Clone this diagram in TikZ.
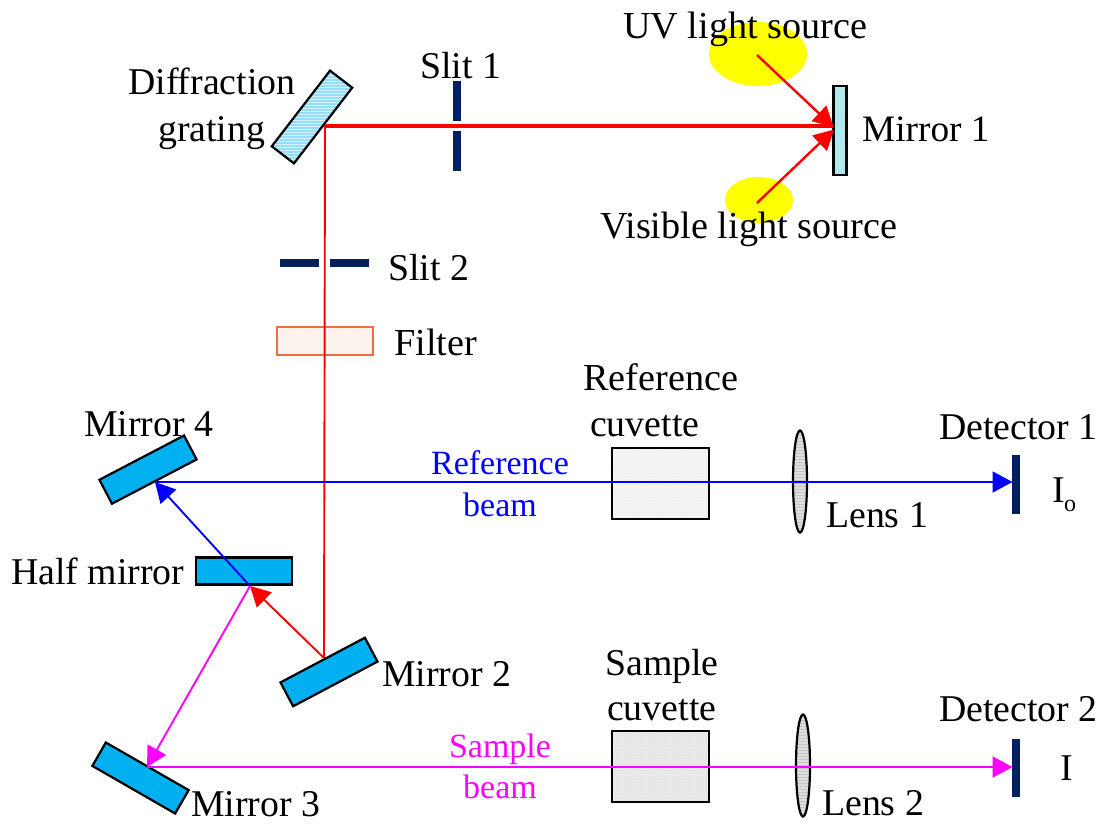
\documentclass[tikz,border=0pt]{standalone}
\usepackage{fontspec}
\setmainfont{Liberation Serif}
\usetikzlibrary{arrows.meta,shapes.geometric,patterns}
\definecolor{navyslit}{RGB}{0,32,96}
\definecolor{mirrorblue}{RGB}{0,176,240}
\definecolor{paleblue}{RGB}{176,232,240}
\definecolor{gratingblue}{RGB}{150,222,248}
\definecolor{srcyellow}{RGB}{255,255,0}
\definecolor{filterline}{RGB}{240,110,70}
\definecolor{filterfill}{RGB}{250,235,225}
\definecolor{cuvA}{RGB}{245,245,245}
\definecolor{cuvB}{RGB}{235,235,235}
\definecolor{lensfill}{RGB}{222,222,222}
\definecolor{beampink}{RGB}{255,0,255}
\tikzset{
  x=1pt,y=-1pt,
  lbl/.style={anchor=base west,inner sep=0pt,font=\fontsize{37.8}{40}\selectfont,text=black},
  lblwide/.style={lbl,font=\fontsize{38.2}{40}\selectfont},
  beamlbl/.style={anchor=base,inner sep=0pt,font=\fontsize{34}{36}\selectfont},
  source/.style={ellipse,fill=srcyellow,inner sep=0pt},
  optic/.style={rectangle,draw=black,line width=2.2pt,fill=mirrorblue,inner sep=0pt,minimum width=95.5pt,minimum height=27pt},
  slitbar/.style={rectangle,fill=navyslit,inner sep=0pt},
  cuvette/.style={rectangle,draw=black,line width=2pt,inner sep=0pt,minimum width=97pt,minimum height=71pt},
  lens/.style={ellipse,draw=black,line width=2.2pt,inner sep=0pt,minimum width=14pt,preaction={fill=lensfill},pattern=horizontal lines,pattern color=gray!45},
  beam/.style={line width=1.9pt},
  tip/.style={-{Triangle[length=20pt,width=21pt]}}
}
\begin{document}
\begin{tikzpicture}
\useasboundingbox (0,0) rectangle (1107,823);
% light sources
\node[source,minimum width=98pt,minimum height=64pt] (uv) at (758,54) {};
\node[source,minimum width=68pt,minimum height=46pt] (vis) at (759,200) {};
% labels
\node[lblwide] (tuv) at (623,38) {UV light source};
\node[lblwide] (tvis) at (600,238) {Visible light source};
\node[lbl] (tdiff) at (128,94) {Diffraction};
\node[lbl] (tgrat) at (158,141) {grating};
\node[lbl] (tslit1) at (420,78) {Slit 1};
\node[lbl,font=\fontsize{37.3}{40}\selectfont] (tmir1) at (862,141) {Mirror 1};
\node[lbl] (tslit2) at (388,280) {Slit 2};
\node[lblwide] (tfilt) at (394,355) {Filter};
\node[lblwide] (tref) at (583,390) {Reference};
\node[lbl] (tcuv1) at (590,436) {cuvette};
\node[lbl] (tmir4) at (84,436) {Mirror 4};
\node[lbl] (tdet1) at (939,439) {Detector 1};
\node[lbl] (tio) at (1052,502) {I};
\node[inner sep=0pt,anchor=base west,font=\fontsize{24}{26}\selectfont] (tiosub) at (1064,511) {o};
\node[lbl] (tlens1) at (826,527) {Lens 1};
\node[lbl] (thalf) at (11,584) {Half mirror};
\node[lbl] (tmir2) at (382,686) {Mirror 2};
\node[lbl] (tsam) at (605,675) {Sample};
\node[lbl] (tcuv2) at (607,720) {cuvette};
\node[lbl] (tdet2) at (939,721) {Detector 2};
\node[lbl] (ti) at (1060,780) {I};
\node[lbl] (tlens2) at (822,815) {Lens 2};
\node[lbl] (tmir3) at (191,816) {Mirror 3};
\node[beamlbl,text=blue] (trb1) at (500,474) {Reference};
\node[beamlbl,text=blue] (trb2) at (500,516) {beam};
\node[beamlbl,text=beampink] (tsb1) at (500,757) {Sample};
\node[beamlbl,text=beampink] (tsb2) at (500,798) {beam};
% optics
\node[rectangle,draw=black,line width=2.2pt,inner sep=0pt,minimum width=95.5pt,minimum height=28pt,rotate=52.4,preaction={fill=gratingblue},pattern=horizontal lines,pattern color=white!60!gratingblue] (grating) at (312,117) {};
\node[rectangle,draw=black,line width=2.4pt,fill=paleblue,inner sep=0pt,minimum width=13pt,minimum height=89pt] (mirror1) at (840,130.5) {};
\node[slitbar,minimum width=8pt,minimum height=40pt] (s1a) at (456.5,101) {};
\node[slitbar,minimum width=8pt,minimum height=40pt] (s1b) at (456.5,150.5) {};
\node[slitbar,minimum width=39pt,minimum height=8pt] (s2a) at (299.5,263) {};
\node[slitbar,minimum width=39pt,minimum height=8pt] (s2b) at (349.5,263) {};
\node[rectangle,draw=filterline,line width=2.2pt,inner sep=0pt,minimum width=96pt,minimum height=28pt,preaction={fill=filterfill!50!white},pattern=crosshatch dots,pattern color=filterline!18!white] (filter) at (325,341) {};
\node[optic,rotate=27.6] (mirror4) at (148,469.6) {};
\node[optic] (half) at (244,571) {};
\node[optic,rotate=27.9] (mirror2) at (329,672) {};
\node[optic,rotate=-29.9] (mirror3) at (140.5,778) {};
\node[cuvette,preaction={fill=cuvA},pattern=crosshatch dots,pattern color=gray!18] (cuv1) at (660.5,483.5) {};
\node[cuvette,preaction={fill=cuvB},pattern=crosshatch dots,pattern color=gray!30] (cuv2) at (660,766.5) {};
\node[lens,minimum height=102pt] (lens1) at (800,481.5) {};
\node[lens,minimum height=102pt] (lens2) at (803,765.5) {};
\node[slitbar,minimum width=8pt,minimum height=59pt] (det1) at (1016,484.5) {};
\node[slitbar,minimum width=8pt,minimum height=58pt] (det2) at (1016,768) {};
% beam points
\coordinate (gr) at (325,126);
\coordinate (m1) at (833,126);
\coordinate (m1up) at (833.5,127);
\coordinate (m1lo) at (834,129.5);
\coordinate (uvc) at (757,55);
\coordinate (visc) at (757,203);
\coordinate (m2) at (324,658);
\coordinate (hm) at (250,586);
\coordinate (m4) at (155,482);
\coordinate (m3) at (147,767);
\coordinate (d1) at (1012.5,482);
\coordinate (d2) at (1012.5,767);
% beams
\draw[red,line width=3.6pt] (gr) -- (m1);
\draw[red,line width=2.4pt,tip] (uvc) -- (m1up);
\draw[red,line width=2.4pt,tip] (visc) -- (m1lo);
\draw[red,beam] (gr) -- (m2);
\draw[red,beam,tip] (m2) -- (hm);
\draw[blue,beam,tip] (hm) -- (m4);
\draw[beampink,beam,tip] (hm) -- (m3);
\draw[blue,beam,tip] (m4) -- (d1);
\draw[beampink,beam,tip] (m3) -- (d2);
\end{tikzpicture}
\end{document}
